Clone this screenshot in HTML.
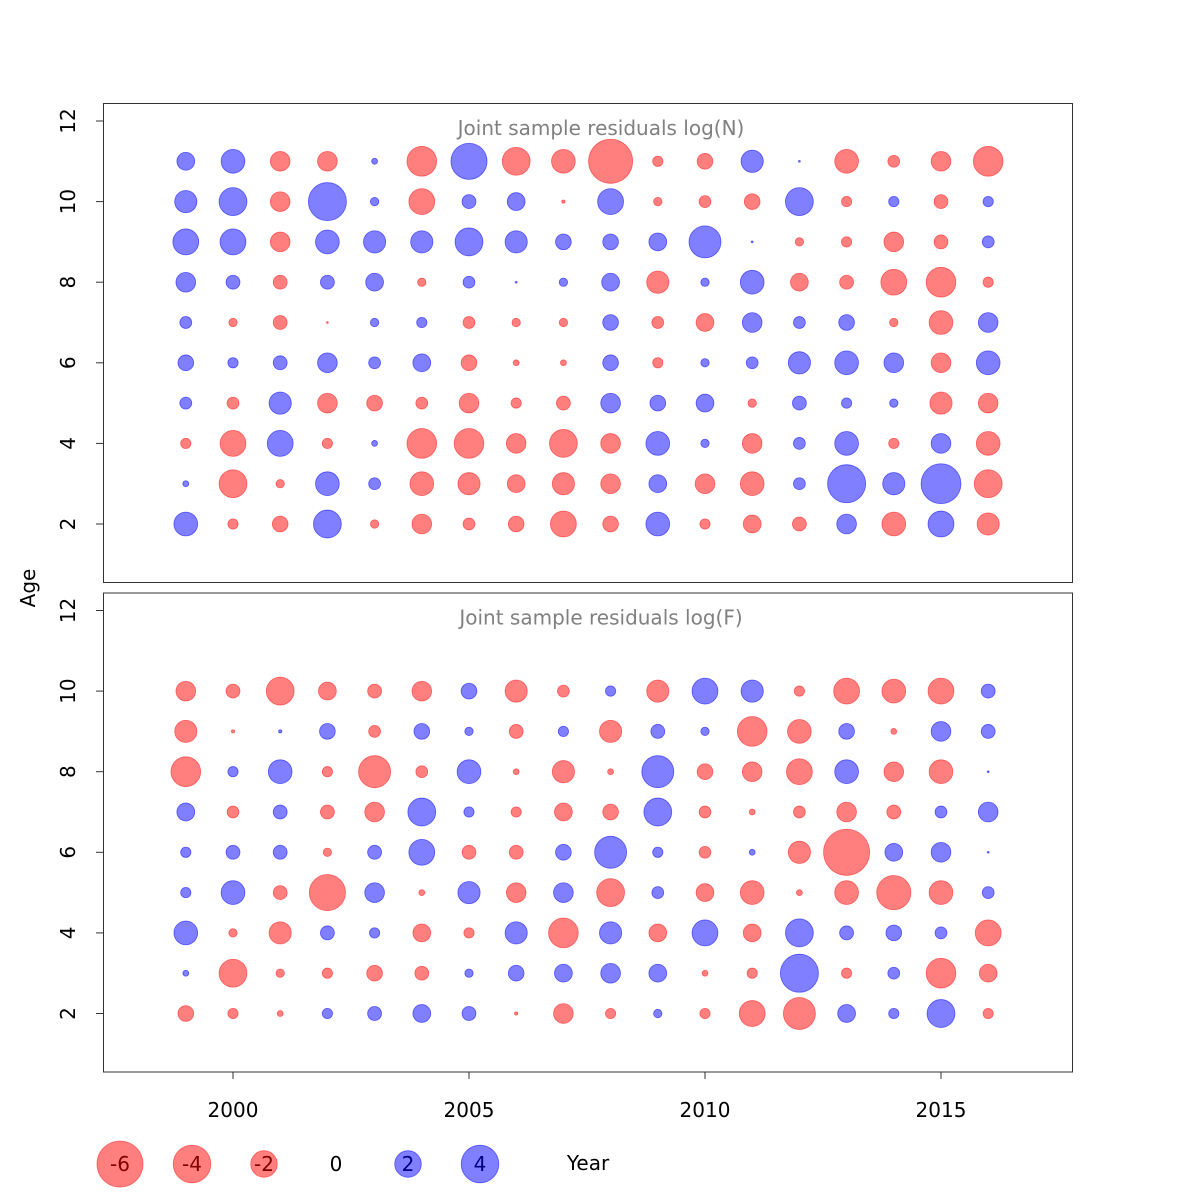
<!DOCTYPE html>
<html><head><meta charset="utf-8"><style>
body{margin:0;background:#fff}
svg{display:block;font-family:"DejaVu Sans","Liberation Sans",sans-serif}
</style></head><body>
<svg id="chart" width="1200" height="1200" viewBox="0 0 1200 1200"></svg>
<script>
const years = [1999,2000,2001,2002,2003,2004,2005,2006,2007,2008,2009,2010,2011,2012,2013,2014,2015,2016];
const agesN = [11,10,9,8,7,6,5,4,3,2];
const agesF = [10,9,8,7,6,5,4,3,2];
const resN11 = [0.9,1.6,-1.1,-1.1,0.1,-2.5,3.7,-2.2,-1.6,-5.5,-0.3,-0.7,1.4,0.01,-1.6,-0.4,-1.1,-2.5];
const resN10 = [1.4,2.2,-1.1,4.1,0.2,-1.9,0.55,0.9,-0.03,1.9,-0.2,-0.4,-0.7,2.2,-0.3,0.3,-0.55,0.3];
const resN9 = [1.9,1.9,-1.1,1.6,1.4,1.4,2.2,1.4,0.7,0.7,0.9,2.9,0.01,-0.2,-0.3,-1.1,-0.55,0.4];
const resN8 = [1.1,0.55,-0.55,0.55,0.9,-0.2,0.4,0.01,0.2,0.9,-1.4,0.2,1.6,-0.9,-0.55,-1.9,-2.5,-0.3];
const resN7 = [0.4,-0.2,-0.55,-0.01,0.2,0.3,-0.4,-0.2,-0.2,0.7,-0.4,-0.9,1.1,0.4,0.7,-0.2,-1.6,1.1];
const resN6 = [0.7,0.3,0.55,1.1,0.4,0.9,-0.7,-0.1,-0.1,0.7,-0.3,0.2,0.4,1.4,1.6,1.1,-1.1,1.6];
const resN5 = [0.4,-0.4,1.4,-1.1,-0.7,-0.4,-1.1,-0.3,-0.55,1.1,0.7,0.9,-0.2,0.55,0.3,0.2,-1.4,-1.1];
const resN4 = [-0.3,-1.9,1.9,-0.3,0.1,-2.5,-2.5,-1.1,-2.2,-1.1,1.6,0.2,-1.1,0.4,1.6,-0.3,1.1,-1.6];
const resN3 = [0.1,-2.2,-0.2,1.6,0.4,-1.6,-1.4,-0.9,-1.4,-1.1,0.9,-1.1,-1.6,0.4,4.1,1.4,4.5,-2.2];
const resN2 = [1.6,-0.3,-0.7,2.2,-0.2,-1.1,-0.4,-0.7,-1.9,-0.7,1.6,-0.3,-0.9,-0.55,1.1,-1.6,1.9,-1.4];
const resF10 = [-1.1,-0.55,-2.2,-0.9,-0.55,-1.1,0.7,-1.4,-0.4,0.3,-1.4,1.9,1.4,-0.3,-1.9,-1.6,-1.9,0.55];
const resF9 = [-1.4,-0.03,0.03,0.7,-0.4,0.7,0.2,-0.55,0.3,-1.4,0.55,0.2,-2.5,-1.6,0.7,-0.1,1.1,0.55];
const resF8 = [-2.5,0.3,1.6,-0.3,-2.9,-0.4,1.6,-0.1,-1.4,-0.1,2.9,-0.7,-1.1,-1.9,1.6,-1.1,-1.6,0.01];
const resF7 = [0.9,-0.4,0.55,-0.55,-1.1,2.2,0.3,-0.3,-0.9,-0.7,2.2,-0.4,-0.1,-0.4,-1.1,-0.55,0.4,1.1];
const resF6 = [0.3,0.55,0.55,-0.2,0.55,1.9,-0.55,-0.55,0.7,2.9,0.3,-0.4,0.1,-1.4,-6.0,0.9,1.1,0.01];
const resF5 = [0.3,1.6,-0.55,-3.7,1.1,-0.1,1.4,-1.1,1.1,-2.2,0.4,-0.9,-1.6,-0.1,-1.6,-3.3,-1.6,0.4];
const resF4 = [1.6,-0.2,-1.4,0.55,0.3,-0.9,-0.3,1.4,-2.5,1.4,-0.9,1.9,-0.9,2.2,0.55,0.7,0.4,-1.9];
const resF3 = [0.1,-2.2,-0.2,-0.3,-0.7,-0.55,0.2,0.7,0.9,1.1,0.9,-0.1,-0.3,4.1,-0.3,0.4,-2.5,-0.9];
const resF2 = [-0.7,-0.3,-0.1,0.3,0.55,0.9,0.55,-0.03,-1.1,-0.3,0.2,-0.3,-1.9,-2.9,0.9,0.3,2.2,-0.3];
const rowsN = [resN11,resN10,resN9,resN8,resN7,resN6,resN5,resN4,resN3,resN2];
const rowsF = [resF10,resF9,resF8,resF7,resF6,resF5,resF4,resF3,resF2];
const yTicks = [2,4,6,8,10,12];
const xTicks = [2000,2005,2010,2015];
const legendVals = [-6,-4,-2,0,2,4];

const svg = document.getElementById('chart');
const NS = 'http://www.w3.org/2000/svg';
function mk(tag, attrs, parent){const e=document.createElementNS(NS,tag);for(const k in attrs)e.setAttribute(k,attrs[k]);(parent||svg).appendChild(e);return e;}
const xScale = y => 233 + (y-2000)*47.2;
const rScale = v => 9.4*Math.sqrt(Math.abs(v));
const RED='rgba(255,0,0,0.5)', BLUE='rgba(0,0,255,0.5)';
const FS = 20;

function panel(top, title, ages, rows, name){
  const g = mk('g',{});
  
  
  const yScale = a => top+18 + (12-a)*40.3;
  const box = mk('rect',{x:103.5,y:top+0.5,width:969,height:479,fill:'none',stroke:'#333','stroke-width':1},g);
   
  const t = mk('text',{x:601,y:top+32,'text-anchor':'middle','font-size':FS,fill:'#808080'},g);
  t.textContent = title;
   
  yTicks.forEach(v=>{
    const y = yScale(v);
    mk('line',{x1:96,x2:103,y1:y,y2:y,stroke:'#333'},g);
    const l = mk('text',{x:0,y:0,transform:`translate(75,${y}) rotate(-90)`,'text-anchor':'middle','font-size':FS,fill:'#000'},g);
    l.textContent = v;
     
  });
  ages.forEach((a,i)=>{
    years.forEach((yr,j)=>{
      const v = rows[i][j];
      const c = mk('circle',{cx:xScale(yr),cy:yScale(a),r:rScale(v),fill:v<0?RED:BLUE,stroke:v<0?'rgba(255,0,0,0.5)':'rgba(0,0,255,0.55)','stroke-width':0.8},g);
      
      
    });
  });
}
panel(103,'Joint sample residuals log(N)',agesN,rowsN,'panel-log-n');
panel(592.5,'Joint sample residuals log(F)',agesF,rowsF,'panel-log-f');

xTicks.forEach(v=>{
  const x = xScale(v);
  mk('line',{x1:x,x2:x,y1:1072,y2:1079,stroke:'#333'});
  const l = mk('text',{x:x,y:1117,'text-anchor':'middle','font-size':FS,fill:'#000'});
  l.textContent = v;
   
});
const at = mk('text',{x:0,y:0,transform:'translate(35,588) rotate(-90)','text-anchor':'middle','font-size':FS,fill:'#000'});
at.textContent='Age';
 

legendVals.forEach((v,i)=>{
  const x = 120 + i*72;
  if(v!==0){
    const c = mk('circle',{cx:x,cy:1164,r:rScale(v),fill:v<0?RED:BLUE,stroke:v<0?'rgba(255,0,0,0.5)':'rgba(0,0,255,0.55)','stroke-width':0.8});
     
  }
  const t = mk('text',{x:x,y:1171,'text-anchor':'middle','font-size':FS,fill:v<0?'#800000':(v>0?'#000080':'#000')});
  t.textContent = v;
   
});
const yt = mk('text',{x:588,y:1170,'text-anchor':'middle','font-size':FS,fill:'#000'});
yt.textContent='Year';
 
</script>
</body></html>
